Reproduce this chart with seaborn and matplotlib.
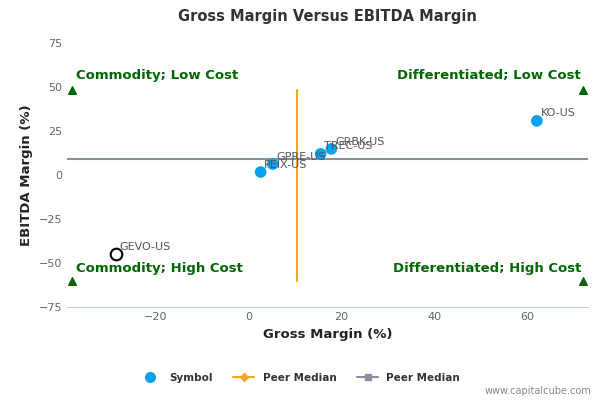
import matplotlib
matplotlib.use("Agg")
import matplotlib.pyplot as plt
import seaborn as sns
import pandas as pd

symbols = ["KO-US", "GRBK-US", "TREC-US", "GPRE-US", "PEIX-US"]
gross = [62.0, 17.8, 15.5, 5.2, 2.6]
ebitda = [30.7, 14.8, 12.0, 6.2, 1.7]
hollow_symbol = "GEVO-US"
hollow_gross = -28.6
hollow_ebitda = -45.0
peer_gross_median = 10.5
peer_ebitda_median = 9.0
xlim = (-39, 73)
ylim = (-75, 75)

sns.set_style("white")
fig, ax = plt.subplots(figsize=(6, 4), dpi=100)
fig.subplots_adjust(left=0.112, right=0.98, top=0.893, bottom=0.232)
df = pd.DataFrame({"Gross": gross, "EBITDA": ebitda, "Symbol": symbols})
sns.scatterplot(data=df, x="Gross", y="EBITDA", color="#0aa0ee", s=70, edgecolor="none", ax=ax, zorder=4)
ax.scatter([hollow_gross], [hollow_ebitda], s=70, facecolor="white", edgecolor="black", linewidth=1.5, zorder=4)
for s, x, y in zip(symbols + [hollow_symbol], gross + [hollow_gross], ebitda + [hollow_ebitda]):
    ax.text(x + 0.8, y + 2.5, s, fontsize=8, color="#555555", zorder=5)

ax.plot([peer_gross_median] * 2, [-60, 48], color="#f5a623", lw=1.5, zorder=2)
ax.axhline(peer_ebitda_median, color="#8a8fa0", lw=1.5, zorder=2)

tri_x = [xlim[0] + 1, xlim[1] - 1]
tri_y = [48, -60]
for tx in tri_x:
    for ty in tri_y:
        ax.scatter([tx], [ty], marker="^", color="#006600", s=30, zorder=5)
g = "#006600"
ax.text(-37, 53, "Commodity; Low Cost", color=g, fontsize=9.5, fontweight="bold", va="bottom")
ax.text(71.5, 53, "Differentiated; Low Cost", color=g, fontsize=9.5, fontweight="bold", va="bottom", ha="right")
ax.text(-37, -57, "Commodity; High Cost", color=g, fontsize=9.5, fontweight="bold", va="bottom")
ax.text(71.5, -57, "Differentiated; High Cost", color=g, fontsize=9.5, fontweight="bold", va="bottom", ha="right")

ax.set_xlim(*xlim)
ax.set_ylim(*ylim)
ax.set_xticks([-20, 0, 20, 40, 60])
ax.set_yticks([75, 50, 25, 0, -25, -50, -75])
ax.tick_params(labelsize=8, colors="#666666", length=0)
ax.set_xlabel("Gross Margin (%)", fontsize=9.5, fontweight="bold", color="#222222")
ax.set_ylabel("EBITDA Margin (%)", fontsize=9.5, fontweight="bold", color="#222222")
ax.set_title("Gross Margin Versus EBITDA Margin", fontsize=10.5, fontweight="bold", color="#333333", pad=16)
for sp in ["top", "right", "left"]:
    ax.spines[sp].set_visible(False)
ax.spines["bottom"].set_color("#c0d0e0")

from matplotlib.lines import Line2D
handles = [
    Line2D([], [], marker="o", color="#0aa0ee", linestyle="none", markersize=7),
    Line2D([], [], marker="D", color="#f5a623", markersize=4, lw=1.5),
    Line2D([], [], marker="s", color="#8a8fa0", markersize=5, lw=1.5),
]
fig.legend(handles, ["Symbol", "Peer Median", "Peer Median"], loc="lower center",
           bbox_to_anchor=(0.5, 0.02), ncol=3, frameon=False,
           prop={"size": 7.5, "weight": "bold"}, labelcolor="#333333")
fig.text(0.985, 0.01, "www.capitalcube.com", ha="right", va="bottom", fontsize=7, color="#888888")
fig.savefig("out.png")
